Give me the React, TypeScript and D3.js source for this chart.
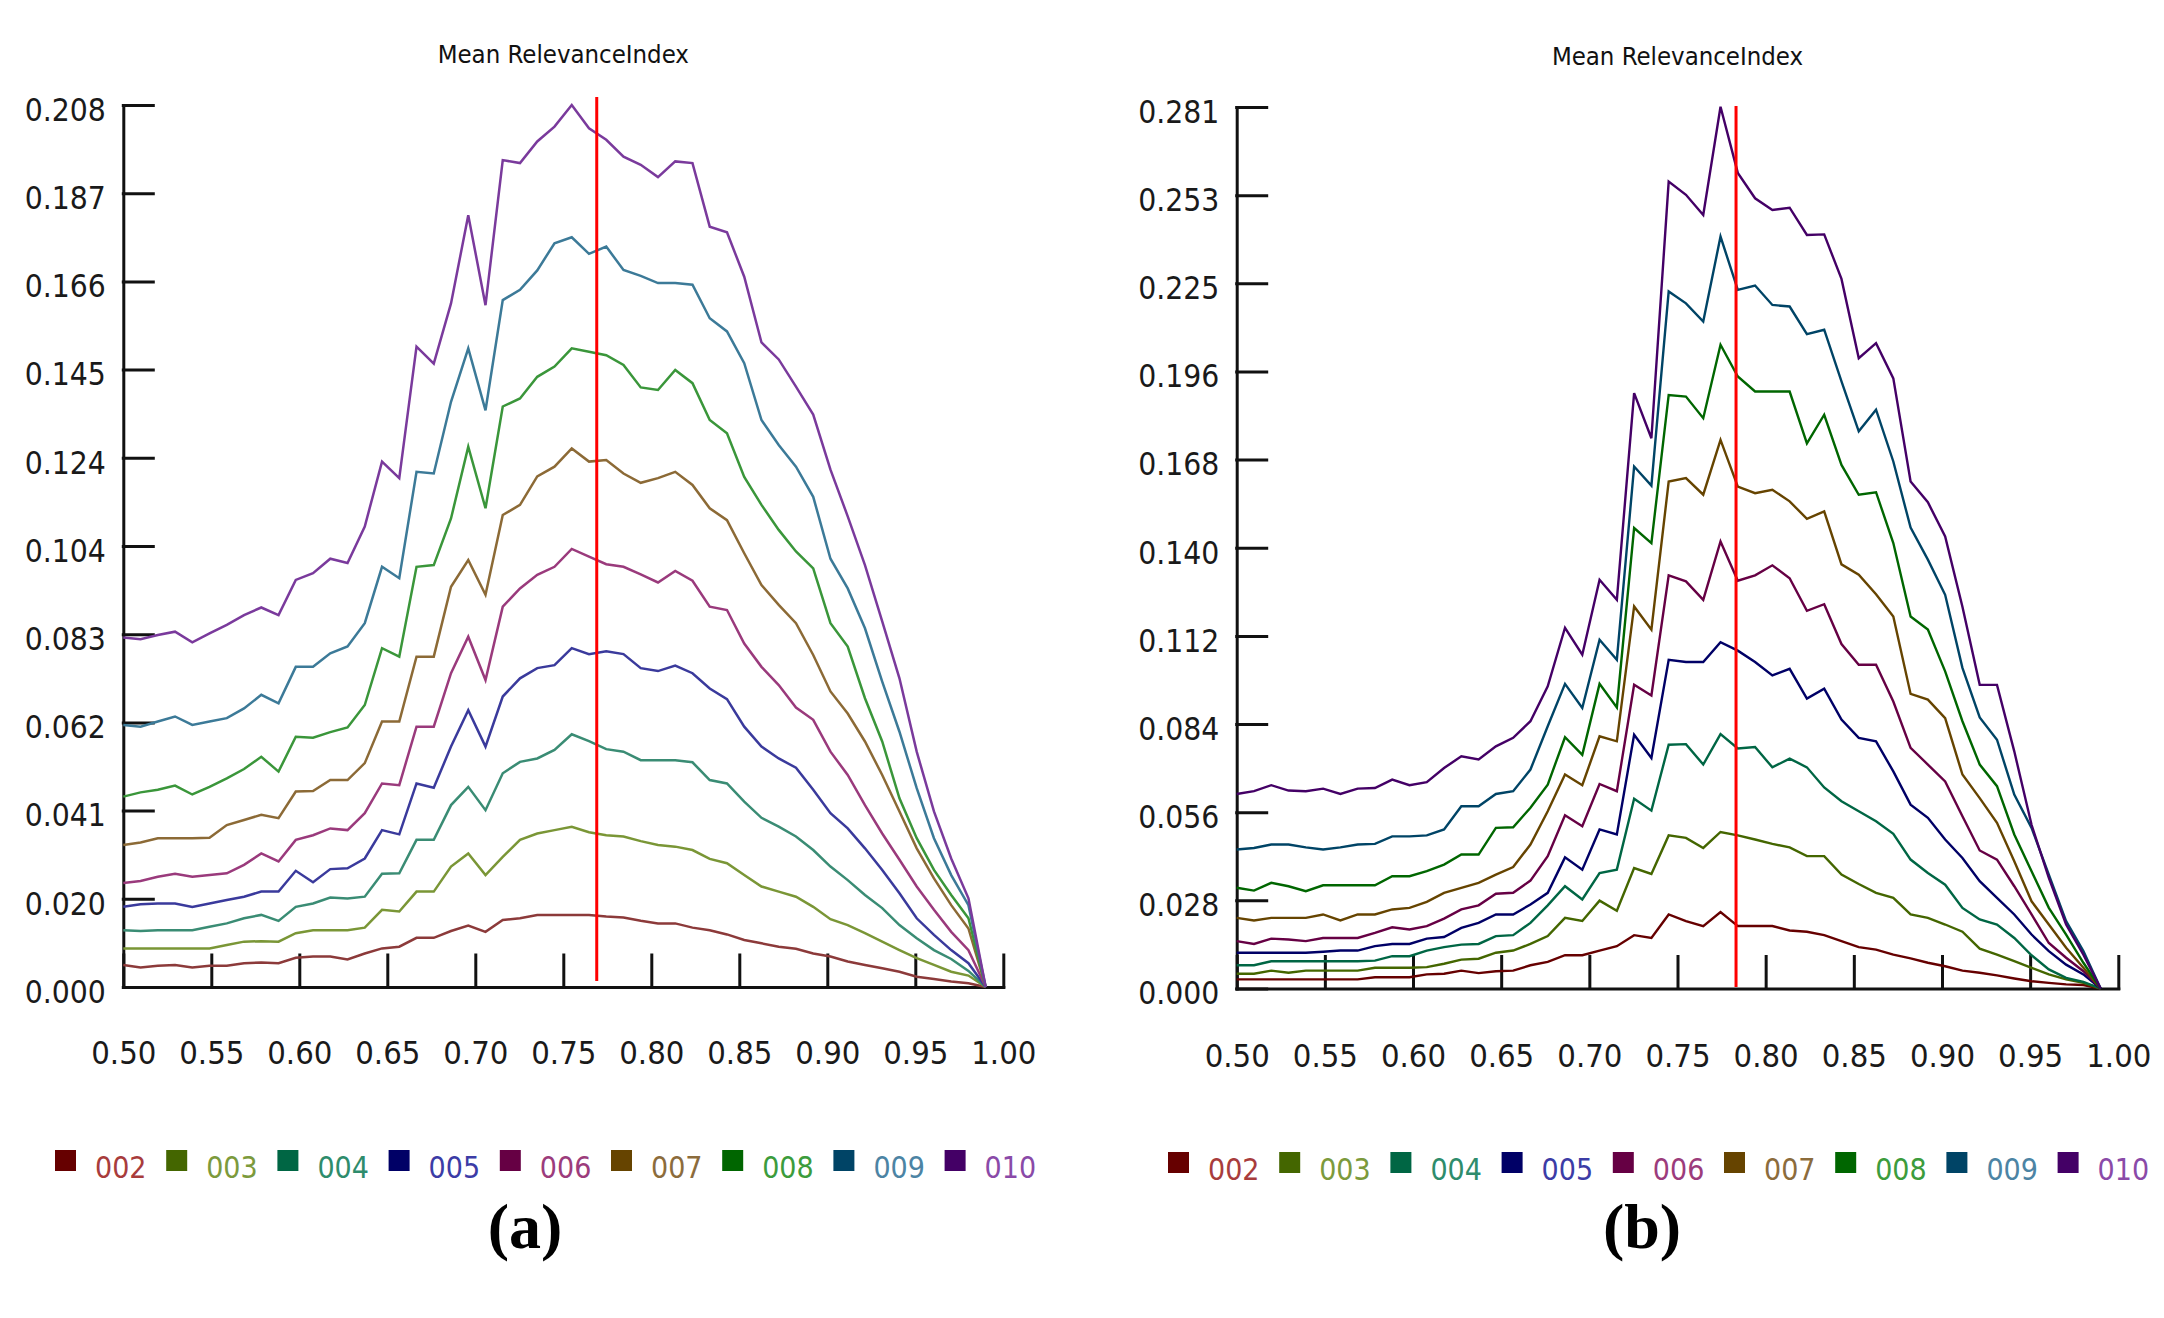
import React, { useEffect, useRef } from 'react';
import * as d3 from 'd3';

// thresholds on the x axis (51 samples, 0.50 .. 0.99)
const thresholds = [
  0.5000, 0.5098, 0.5196, 0.5294, 0.5392, 0.5490, 0.5588, 0.5686, 0.5784, 0.5882,
  0.5980, 0.6078, 0.6176, 0.6274, 0.6372, 0.6470, 0.6568, 0.6666, 0.6764, 0.6862,
  0.6960, 0.7058, 0.7156, 0.7254, 0.7352, 0.7450, 0.7548, 0.7646, 0.7744, 0.7842,
  0.7940, 0.8038, 0.8136, 0.8234, 0.8332, 0.8430, 0.8528, 0.8626, 0.8724, 0.8822,
  0.8920, 0.9018, 0.9116, 0.9214, 0.9312, 0.9410, 0.9508, 0.9606, 0.9704, 0.9802,
  0.9900,
];

const seriesNames = ['002', '003', '004', '005', '006', '007', '008', '009', '010'];
const chartTitle = 'Mean RelevanceIndex';

const xTickValues = [0.5, 0.55, 0.6, 0.65, 0.7, 0.75, 0.8, 0.85, 0.9, 0.95, 1.0];
const xLabels = ['0.50', '0.55', '0.60', '0.65', '0.70', '0.75', '0.80', '0.85', '0.90', '0.95', '1.00'];

// panel (a)
const maxA = 0.208;
const cutA = 0.769;
const yLabelsA = ['0.000', '0.020', '0.041', '0.062', '0.083', '0.104', '0.124', '0.145', '0.166', '0.187', '0.208'];

const s002a = [0.0052,0.0046,0.0050,0.0052,0.0046,0.0050,0.0050,0.0056,0.0058,0.0056, 0.0069,0.0072,0.0072,0.0065,0.0079,0.0091,0.0095,0.0116,0.0116,0.0132, 0.0145,0.0130,0.0158,0.0162,0.0170,0.0170,0.0170,0.0170,0.0166,0.0164, 0.0156,0.0150,0.0150,0.0140,0.0134,0.0124,0.0111,0.0103,0.0095,0.0090, 0.0079,0.0072,0.0060,0.0052,0.0044,0.0036,0.0024,0.0019,0.0013,0.0009, 0];
const s003a = [0.0091,0.0091,0.0091,0.0091,0.0091,0.0091,0.0099,0.0107,0.0108,0.0107, 0.0127,0.0134,0.0134,0.0134,0.0140,0.0182,0.0178,0.0225,0.0225,0.0284, 0.0315,0.0264,0.0307,0.0347,0.0362,0.0370,0.0378,0.0365,0.0358,0.0355, 0.0344,0.0335,0.0331,0.0323,0.0302,0.0292,0.0264,0.0237,0.0225,0.0213, 0.0189,0.0160,0.0146,0.0127,0.0107,0.0087,0.0068,0.0052,0.0036,0.0027, 0];
const s004a = [0.0134,0.0132,0.0134,0.0134,0.0134,0.0142,0.0150,0.0162,0.0170,0.0156, 0.0189,0.0197,0.0211,0.0209,0.0213,0.0267,0.0268,0.0347,0.0347,0.0429, 0.0472,0.0417,0.0504,0.0531,0.0539,0.0559,0.0596,0.0580,0.0561,0.0555, 0.0535,0.0535,0.0535,0.0530,0.0488,0.0480,0.0437,0.0399,0.0378,0.0355, 0.0323,0.0284,0.0252,0.0217,0.0186,0.0146,0.0115,0.0087,0.0066,0.0038, 0];
const s005a = [0.0189,0.0195,0.0197,0.0197,0.0189,0.0197,0.0205,0.0213,0.0225,0.0225, 0.0274,0.0247,0.0278,0.0280,0.0303,0.0370,0.0360,0.0480,0.0470,0.0567, 0.0653,0.0567,0.0685,0.0728,0.0752,0.0759,0.0799,0.0785,0.0792,0.0785, 0.0752,0.0745,0.0758,0.0740,0.0704,0.0679,0.0614,0.0567,0.0539,0.0517, 0.0465,0.0410,0.0374,0.0327,0.0276,0.0221,0.0162,0.0123,0.0087,0.0056, 0];
const s006a = [0.0245,0.0250,0.0260,0.0267,0.0260,0.0264,0.0268,0.0288,0.0315,0.0296, 0.0347,0.0358,0.0374,0.0370,0.0410,0.0480,0.0476,0.0614,0.0614,0.0740, 0.0826,0.0724,0.0897,0.0940,0.0972,0.0991,0.1033,0.1015,0.0997,0.0991, 0.0973,0.0954,0.0981,0.0958,0.0897,0.0889,0.0810,0.0755,0.0712,0.0659, 0.0630,0.0555,0.0500,0.0429,0.0362,0.0300,0.0237,0.0182,0.0130,0.0087, 0];
const s007a = [0.0335,0.0341,0.0351,0.0351,0.0351,0.0352,0.0382,0.0394,0.0406,0.0398, 0.0461,0.0462,0.0488,0.0488,0.0528,0.0626,0.0626,0.0779,0.0779,0.0944, 0.1007,0.0925,0.1113,0.1137,0.1204,0.1227,0.1270,0.1239,0.1243,0.1211, 0.1189,0.1200,0.1215,0.1184,0.1129,0.1101,0.1023,0.0948,0.0901,0.0858, 0.0783,0.0697,0.0645,0.0579,0.0500,0.0414,0.0327,0.0256,0.0193,0.0138, 0];
const s008a = [0.0449,0.0459,0.0465,0.0475,0.0454,0.0472,0.0492,0.0514,0.0543,0.0508, 0.0590,0.0588,0.0601,0.0612,0.0665,0.0799,0.0779,0.0991,0.0995,0.1105, 0.1274,0.1129,0.1369,0.1388,0.1439,0.1463,0.1506,0.1498,0.1490,0.1467, 0.1414,0.1408,0.1455,0.1424,0.1337,0.1306,0.1203,0.1137,0.1078,0.1027, 0.0987,0.0858,0.0803,0.0681,0.0579,0.0445,0.0351,0.0276,0.0217,0.0162, 0];
const s009a = [0.0618,0.0614,0.0626,0.0638,0.0618,0.0626,0.0634,0.0657,0.0689,0.0669, 0.0755,0.0755,0.0787,0.0803,0.0858,0.0991,0.0964,0.1215,0.1211,0.1380, 0.1506,0.1360,0.1620,0.1644,0.1690,0.1754,0.1768,0.1729,0.1746,0.1691, 0.1677,0.1660,0.1660,0.1656,0.1577,0.1546,0.1471,0.1337,0.1278,0.1227, 0.1156,0.1010,0.0940,0.0846,0.0720,0.0602,0.0469,0.0351,0.0264,0.0193, 0];
const s010a = [0.0824,0.0820,0.0830,0.0838,0.0813,0.0834,0.0854,0.0877,0.0895,0.0877, 0.0960,0.0976,0.1010,0.1000,0.1086,0.1239,0.1200,0.1510,0.1470,0.1612, 0.1820,0.1608,0.1950,0.1943,0.1994,0.2029,0.2080,0.2025,0.1998,0.1958, 0.1939,0.1910,0.1947,0.1943,0.1793,0.1780,0.1675,0.1520,0.1480,0.1416, 0.1350,0.1220,0.1110,0.0995,0.0862,0.0728,0.0555,0.0414,0.0303,0.0209, 0];

// panel (b)
const maxB = 0.281;
const cutB = 0.7832;
const yLabelsB = ['0.000', '0.028', '0.056', '0.084', '0.112', '0.140', '0.168', '0.196', '0.225', '0.253', '0.281'];

const s002b = [0.0029,0.0029,0.0029,0.0029,0.0029,0.0029,0.0029,0.0029,0.0036,0.0036, 0.0036,0.0045,0.0047,0.0057,0.0049,0.0055,0.0057,0.0074,0.0085,0.0106, 0.0106,0.0121,0.0135,0.0170,0.0161,0.0236,0.0215,0.0199,0.0244,0.0199, 0.0199,0.0199,0.0185,0.0181,0.0170,0.0151,0.0132,0.0124,0.0108,0.0096, 0.0082,0.0071,0.0057,0.0050,0.0042,0.0032,0.0023,0.0018,0.0013,0.0011, 0];
const s003b = [0.0047,0.0047,0.0057,0.0050,0.0057,0.0057,0.0057,0.0057,0.0066,0.0066, 0.0066,0.0068,0.0079,0.0092,0.0095,0.0114,0.0121,0.0142,0.0167,0.0225, 0.0215,0.0280,0.0248,0.0384,0.0365,0.0488,0.0480,0.0448,0.0499,0.0488, 0.0475,0.0461,0.0450,0.0422,0.0422,0.0363,0.0333,0.0305,0.0289,0.0236, 0.0225,0.0204,0.0181,0.0127,0.0108,0.0087,0.0066,0.0045,0.0029,0.0018, 0];
const s004b = [0.0074,0.0074,0.0087,0.0087,0.0087,0.0087,0.0087,0.0087,0.0089,0.0103, 0.0103,0.0121,0.0132,0.0140,0.0142,0.0167,0.0170,0.0209,0.0265,0.0326, 0.0284,0.0368,0.0379,0.0605,0.0567,0.0777,0.0779,0.0714,0.0811,0.0765, 0.0770,0.0705,0.0733,0.0705,0.0641,0.0597,0.0565,0.0533,0.0493,0.0411, 0.0368,0.0331,0.0257,0.0220,0.0204,0.0161,0.0106,0.0061,0.0034,0.0021, 0];
const s005b = [0.0114,0.0114,0.0114,0.0114,0.0114,0.0117,0.0121,0.0121,0.0135,0.0142, 0.0142,0.0159,0.0164,0.0193,0.0209,0.0236,0.0236,0.0268,0.0305,0.0418, 0.0379,0.0507,0.0491,0.0809,0.0735,0.1048,0.1041,0.1041,0.1104,0.1077, 0.1041,0.0998,0.1019,0.0924,0.0956,0.0857,0.0799,0.0788,0.0692,0.0586, 0.0544,0.0475,0.0416,0.0342,0.0289,0.0236,0.0172,0.0119,0.0076,0.0045, 0];
const s006b = [0.0151,0.0142,0.0159,0.0156,0.0151,0.0161,0.0161,0.0161,0.0177,0.0195, 0.0188,0.0199,0.0223,0.0252,0.0265,0.0302,0.0305,0.0344,0.0422,0.0552, 0.0517,0.0652,0.0629,0.0968,0.0934,0.1317,0.1298,0.1239,0.1425,0.1300, 0.1317,0.1349,0.1308,0.1204,0.1225,0.1098,0.1032,0.1032,0.0915,0.0767, 0.0714,0.0660,0.0549,0.0440,0.0411,0.0326,0.0236,0.0145,0.0098,0.0055, 0];
const s007b = [0.0225,0.0217,0.0225,0.0225,0.0225,0.0236,0.0217,0.0236,0.0236,0.0252, 0.0257,0.0276,0.0305,0.0321,0.0337,0.0363,0.0387,0.0459,0.0565,0.0682, 0.0648,0.0804,0.0788,0.1218,0.1144,0.1616,0.1627,0.1574,0.1749,0.1600, 0.1579,0.1590,0.1553,0.1497,0.1521,0.1352,0.1319,0.1257,0.1186,0.0939, 0.0921,0.0862,0.0682,0.0607,0.0528,0.0406,0.0278,0.0204,0.0130,0.0066, 0];
const s008b = [0.0321,0.0312,0.0337,0.0326,0.0310,0.0329,0.0329,0.0329,0.0329,0.0358, 0.0358,0.0374,0.0395,0.0427,0.0427,0.0512,0.0514,0.0576,0.0650,0.0801, 0.0745,0.0971,0.0896,0.1468,0.1420,0.1892,0.1887,0.1818,0.2052,0.1951, 0.1903,0.1903,0.1903,0.1738,0.1829,0.1669,0.1574,0.1582,0.1420,0.1186, 0.1144,0.1011,0.0852,0.0714,0.0645,0.0491,0.0374,0.0257,0.0172,0.0082, 0];
const s009b = [0.0443,0.0448,0.0459,0.0459,0.0450,0.0443,0.0450,0.0459,0.0461,0.0485, 0.0485,0.0488,0.0507,0.0581,0.0581,0.0620,0.0629,0.0698,0.0836,0.0971, 0.0894,0.1112,0.1048,0.1664,0.1603,0.2222,0.2184,0.2126,0.2397,0.2227, 0.2241,0.2179,0.2174,0.2086,0.2100,0.1935,0.1776,0.1845,0.1680,0.1469, 0.1367,0.1255,0.1022,0.0864,0.0793,0.0618,0.0512,0.0363,0.0215,0.0119, 0];
const s010b = [0.0620,0.0629,0.0648,0.0631,0.0629,0.0637,0.0620,0.0637,0.0639,0.0666, 0.0648,0.0658,0.0703,0.0740,0.0730,0.0772,0.0799,0.0852,0.0963,0.1150, 0.1064,0.1303,0.1239,0.1898,0.1754,0.2572,0.2530,0.2466,0.2811,0.2600, 0.2519,0.2482,0.2489,0.2402,0.2404,0.2262,0.2009,0.2057,0.1945,0.1616, 0.1550,0.1441,0.1217,0.0968,0.0968,0.0756,0.0522,0.0353,0.0204,0.0108, 0];

const seriesA = [s002a, s003a, s004a, s005a, s006a, s007a, s008a, s009a, s010a];
const seriesB = [s002b, s003b, s004b, s005b, s006b, s007b, s008b, s009b, s010b];

// colours
const swatchColors = ['#660000', '#446600', '#006644', '#000066', '#660044', '#664400', '#006600', '#004466', '#440066'];
const lineColorsA = ['#8c3a3a', '#7a9636', '#3a8c74', '#3a3a9c', '#9a3a7c', '#8c6a36', '#3a963a', '#3c7a98', '#7a3a9c'];
const legendTextColors = ['#a83c3c', '#7c9a3c', '#2e8c6c', '#3c3ca6', '#9c3c7c', '#8c6c3c', '#3c9c3c', '#4c84a4', '#8a4aa8'];

const FONT = "'DejaVu Sans Condensed', 'DejaVu Sans', sans-serif";

interface PanelCfg {
  series: number[][];
  max: number;
  cut: number;
  yLabels: string[];
  caption: string;
  colors: string[];
  lineWidth: number;
  x0: number; x1: number; yTop: number; yBottom: number;
  titleY: number; xLabelY: number;
  redTop: number; redBottom: number;
  legendX: number; legendY: number; legendTextY: number;
  captionX: number;
}

const drawPanel = (svg: d3.Selection<SVGSVGElement, unknown, null, undefined>, cfg: PanelCfg) => {
  const x = d3.scaleLinear().domain([0.5, 1]).range([cfg.x0, cfg.x1]);
  const y = d3.scaleLinear().domain([0, cfg.max]).range([cfg.yBottom, cfg.yTop]);
  const g = svg.append('g');

  g.append('text')
    .attr('x', (cfg.x0 + cfg.x1) / 2).attr('y', cfg.titleY)
    .attr('text-anchor', 'middle').attr('fill', '#111')
    .style('font-family', FONT).style('font-stretch', 'condensed').style('font-size', '25.5px')
    .text(chartTitle);

  // y axis, ticks pointing inwards
  const yTicks = cfg.yLabels.map((_, i) => (cfg.max * i) / (cfg.yLabels.length - 1));
  const yAxis = g.append('g').attr('transform', `translate(${cfg.x0},0)`)
    .call(d3.axisLeft(y).tickValues(yTicks).tickSizeInner(-30).tickSizeOuter(0).tickFormat((_, i) => cfg.yLabels[i]));
  yAxis.attr('color', '#111').attr('font-family', FONT).attr('font-size', 31.5).attr('text-anchor', 'middle');
  yAxis.selectAll('text').attr('x', -58).attr('y', 4).attr('dy', '0.36em').style('font-stretch', 'condensed').attr('fill', '#1a1a1a');

  const xAxis = g.append('g').attr('transform', `translate(0,${cfg.yBottom})`)
    .call(d3.axisBottom(x).tickValues(xTickValues).tickSizeInner(-32).tickSizeOuter(0).tickFormat((_, i) => xLabels[i]));
  xAxis.attr('color', '#111').attr('font-family', FONT).attr('font-size', 32.5);
  xAxis.selectAll('text').attr('y', cfg.xLabelY - cfg.yBottom).attr('dy', null).style('font-stretch', 'condensed').attr('fill', '#1a1a1a');

  g.selectAll('path.domain, .tick line').attr('stroke-width', 3).attr('stroke-linecap', 'square');

  const line = d3.line<number>().x((_, i) => x(thresholds[i])).y(d => y(d));
  g.append('g').selectAll('path').data(cfg.series).enter().append('path')
    .attr('d', d => line(d))
    .attr('fill', 'none')
    .attr('stroke', (_, i) => cfg.colors[i])
    .attr('stroke-width', cfg.lineWidth)
    .attr('stroke-linejoin', 'miter');

  g.append('line')
    .attr('x1', x(cfg.cut)).attr('x2', x(cfg.cut))
    .attr('y1', cfg.redTop).attr('y2', cfg.redBottom)
    .attr('stroke', '#ff0000').attr('stroke-width', 3);

  // legend
  const step = 111.2;
  const leg = g.append('g').selectAll('g').data(seriesNames).enter().append('g')
    .attr('transform', (_, i) => `translate(${cfg.legendX + i * step},0)`);
  leg.append('rect').attr('x', 0).attr('y', cfg.legendY).attr('width', 21).attr('height', 21)
    .attr('fill', (_, i) => swatchColors[i]);
  leg.append('text').attr('x', 40).attr('y', cfg.legendTextY)
    .attr('fill', (_, i) => legendTextColors[i])
    .style('font-family', FONT).style('font-stretch', 'condensed').style('font-size', '30px')
    .text(d => d);

  g.append('text')
    .attr('x', cfg.captionX).attr('y', 1248).attr('text-anchor', 'middle').attr('fill', '#000')
    .style('font-family', "'Liberation Serif', 'DejaVu Serif', serif").style('font-weight', 'bold').style('font-size', '64px')
    .text(cfg.caption);
};

export default function App() {
  const ref = useRef<SVGSVGElement>(null);

  useEffect(() => {
    if (!ref.current) return;
    const svg = d3.select(ref.current);
    svg.selectAll('*').remove();

    drawPanel(svg, {
      series: seriesA, max: maxA, cut: cutA, yLabels: yLabelsA, caption: '(a)',
      colors: lineColorsA, lineWidth: 2.5,
      x0: 123.3, x1: 1003.3, yTop: 105, yBottom: 987,
      titleY: 63, xLabelY: 1064, redTop: 97, redBottom: 981,
      legendX: 55, legendY: 1150, legendTextY: 1178, captionX: 525,
    });
    drawPanel(svg, {
      series: seriesB, max: maxB, cut: cutB, yLabels: yLabelsB, caption: '(b)',
      colors: swatchColors, lineWidth: 2.4,
      x0: 1236.7, x1: 2118.3, yTop: 107, yBottom: 988.5,
      titleY: 65, xLabelY: 1067, redTop: 106, redBottom: 987,
      legendX: 1168, legendY: 1152, legendTextY: 1180, captionX: 1642,
    });
  }, []);

  return (
    <svg ref={ref} width={2164} height={1318} viewBox="0 0 2164 1318"
      style={{ position: 'absolute', left: 0, top: 0, display: 'block', background: '#fff' }} />
  );
}
